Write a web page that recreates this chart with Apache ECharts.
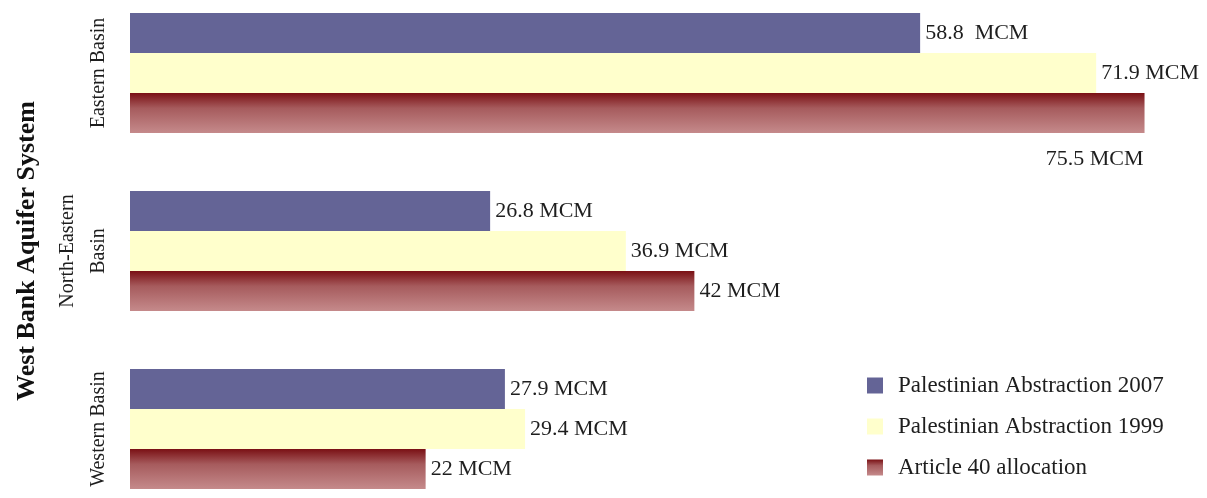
<!DOCTYPE html>
<html>
<head>
<meta charset="utf-8">
<title>West Bank Aquifer System</title>
<script src="https://cdn.jsdelivr.net/npm/echarts@6/dist/echarts.min.js"></script>
<style>
  html, body { margin: 0; padding: 0; background: #ffffff; }
  #chart { width: 1207px; height: 498px; }
</style>
</head>
<body>
<div id="chart"></div>
<script>
// Basins of the West Bank aquifer system (top to bottom)
const categories = ['Eastern Basin', 'North-Eastern\nBasin', 'Western Basin'];

// Volumes in million cubic metres (MCM)
const abstraction2007 = [58.8, 26.8, 27.9];
const abstraction1999 = [71.9, 36.9, 29.4];
const article40 = [75.5, 42, 22];

const seriesNames = [
  'Palestinian Abstraction 2007',
  'Palestinian Abstraction 1999',
  'Article 40 allocation'
];

const FONT = '"Liberation Serif", "Times New Roman", serif';

const articleGradient = {
  type: 'linear', x: 0, y: 0, x2: 0, y2: 1,
  colorStops: [
    { offset: 0, color: '#7a1014' },
    { offset: 0.38, color: '#a65b5d' },
    { offset: 1, color: '#c58a8b' }
  ]
};

const valueLabel = {
  show: true,
  position: 'right',
  distance: 5,
  color: '#1e1e1e',
  fontFamily: FONT,
  fontSize: 22,
  formatter: (p) => p.value + ' MCM'
};

// The largest allocation carries its label beneath the bar, flush right
const articleData = article40.map((v, i) => i === 0 ? {
  value: v,
  label: {
    position: ['100%', '100%'],
    align: 'right',
    verticalAlign: 'top',
    offset: [-1, 15]
  }
} : v);

const abstraction2007Data = abstraction2007.map((v, i) => i === 0 ? {
  value: v,
  label: { formatter: (p) => p.value + '  MCM' }
} : v);

const chart = echarts.init(document.getElementById('chart'), null, { renderer: 'canvas' });

chart.setOption({
  animation: false,
  backgroundColor: '#ffffff',
  // the plot band runs a little past the top and bottom of the canvas
  grid: {
    left: 130, width: 1075, top: -16, height: 534,
    containLabel: false,
    outerBoundsMode: 'none'
  },
  legend: {
    orient: 'vertical',
    left: 862,
    top: 369,
    itemWidth: 16,
    itemHeight: 16,
    itemGap: 18,
    icon: 'rect',
    textStyle: {
      fontFamily: FONT,
      fontSize: 23,
      color: '#1e1e1e',
      padding: [0, 0, 0, 10]
    },
    data: seriesNames
  },
  xAxis: {
    type: 'value',
    min: 0,
    max: 80,
    show: false
  },
  yAxis: {
    type: 'category',
    data: categories,
    inverse: true,
    axisLine: { show: false },
    axisTick: { show: false },
    axisLabel: {
      rotate: 90,
      margin: 16,
      fontFamily: FONT,
      fontSize: 20,
      lineHeight: 31,
      color: '#1e1e1e'
    },
    name: 'West Bank Aquifer System',
    nameLocation: 'middle',
    nameRotate: 90,
    nameGap: 90,
    nameTextStyle: {
      fontFamily: FONT,
      fontSize: 26,
      fontWeight: 'bold',
      color: '#111111'
    }
  },
  series: [
    {
      name: seriesNames[0],
      type: 'bar',
      barWidth: 40,
      barGap: '0%',
      itemStyle: { color: '#646496' },
      label: valueLabel,
      data: abstraction2007Data
    },
    {
      name: seriesNames[1],
      type: 'bar',
      barWidth: 40,
      barGap: '0%',
      itemStyle: { color: '#ffffcc' },
      label: valueLabel,
      data: abstraction1999
    },
    {
      name: seriesNames[2],
      type: 'bar',
      barWidth: 40,
      barGap: '0%',
      itemStyle: { color: articleGradient },
      label: valueLabel,
      data: articleData
    }
  ]
});
</script>
</body>
</html>
